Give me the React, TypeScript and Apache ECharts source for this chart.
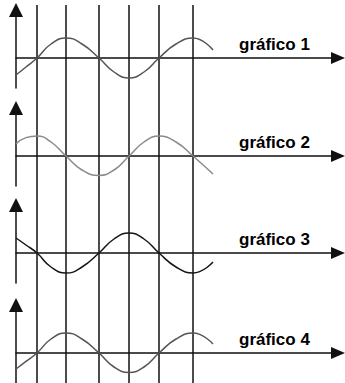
import React, { useEffect, useRef } from "react";
import * as echarts from "echarts";

// Horizontal positions (time units from the vertical axis)
const timePoints = [0, 10, 21, 35, 50, 66, 83, 98, 113, 128, 143, 160, 177, 197];
// Positions of the vertical reference lines
const verticalLines = [21, 50, 83, 113, 143, 177];
// Wave values (in amplitude units)
const wave1 = [-0.85, -0.45, 0, 0.7, 1, 0.7, 0, -0.7, -1, -0.7, 0, 0.7, 1, 0.4];
const wave2 = [0.6, 0.92, 1, 0.7, 0, -0.7, -0.97, -0.7, 0, 0.7, 1, 0.7, 0, -0.9];
const wave3 = [0.75, 0.4, 0, -0.7, -1, -0.7, 0, 0.7, 1, 0.7, 0, -0.7, -1, -0.45];
const wave4 = [-0.8, -0.42, 0, 0.7, 1, 0.7, 0, -0.7, -0.97, -0.7, 0, 0.7, 1, 0.45];
const waves = [wave1, wave2, wave3, wave4];
const waveColors = ["#555555", "#8a8a8a", "#151515", "#555555"];
const labels = ["gráfico 1", "gráfico 2", "gráfico 3", "gráfico 4"];

const W = 345;
const H = 383;
const axisY = [58, 156, 253, 353];
const AMP = 20; // px per amplitude unit
const X_MAX = 322;

export default function App() {
  const ref = useRef<HTMLDivElement>(null);
  useEffect(() => {
    if (!ref.current) return;
    const chart = echarts.init(ref.current, null, { renderer: "svg" });
    const grids: any[] = [];
    const xAxes: any[] = [];
    const yAxes: any[] = [];
    const series: any[] = [];
    const graphics: any[] = [];
    const above = 48; // px from axis to y-axis end (arrow centre)
    const below = 30;
    axisY.forEach((ay, i) => {
      grids.push({ left: 16, right: 7, top: ay - above, height: above + below });
      xAxes.push({
        type: "value",
        gridIndex: i,
        min: 0,
        max: X_MAX,
        axisLine: {
          onZero: true,
          symbol: ["none", "triangle"],
          symbolSize: [12, 14],
          lineStyle: { color: "#111", width: 1.5 },
        },
        axisTick: { show: false },
        axisLabel: { show: false },
        splitLine: { show: false },
      });
      yAxes.push({
        type: "value",
        gridIndex: i,
        min: -below / AMP,
        max: above / AMP,
        axisLine: {
          show: true,
          symbol: ["none", "triangle"],
          symbolSize: [14, 14],
          lineStyle: { color: "#111", width: 1.5 },
        },
        axisTick: { show: false },
        axisLabel: { show: false },
        splitLine: { show: false },
      });
      series.push({
        type: "line",
        xAxisIndex: i,
        yAxisIndex: i,
        data: timePoints.map((t, k) => [t, waves[i][k]]),
        smooth: 0.5,
        symbol: "none",
        lineStyle: { color: waveColors[i], width: 1.5 },
        z: 5,
      });
      graphics.push({
        type: "text",
        left: 239,
        top: ay - 22,
        style: {
          text: labels[i],
          font: "bold 17px 'Liberation Sans', Arial, sans-serif",
          fill: "#000",
        },
      });
    });
    // full-height grid for the vertical reference lines
    grids.push({ left: 16, right: 7, top: 5, bottom: 0 });
    xAxes.push({ type: "value", gridIndex: 4, min: 0, max: X_MAX, show: false });
    yAxes.push({ type: "value", gridIndex: 4, min: 0, max: 1, show: false });
    series.push({
      type: "line",
      xAxisIndex: 4,
      yAxisIndex: 4,
      data: [[0, 0]],
      symbol: "none",
      lineStyle: { opacity: 0 },
      z: 1,
      markLine: {
        silent: true,
        symbol: ["none", "none"],
        label: { show: false },
        lineStyle: { color: "#111", width: 1.5, type: "solid" },
        data: verticalLines.map((v) => ({ xAxis: v })),
      },
    });
    chart.setOption({
      animation: false,
      backgroundColor: "#fff",
      grid: grids,
      xAxis: xAxes,
      yAxis: yAxes,
      series,
      graphic: graphics,
    });
    return () => chart.dispose();
  }, []);
  return (
    <div
      ref={ref}
      style={{ position: "fixed", left: 0, top: 0, width: W, height: H }}
    />
  );
}
